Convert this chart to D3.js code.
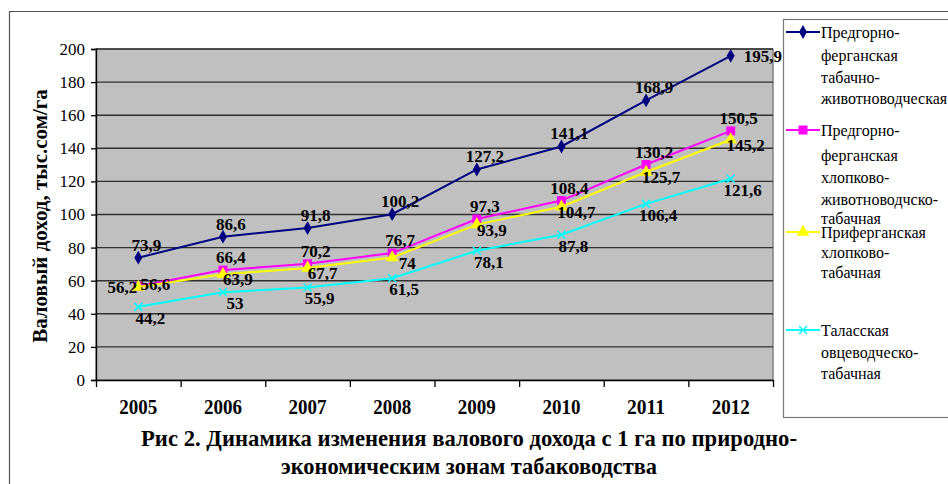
<!DOCTYPE html>
<html>
<head>
<meta charset="utf-8">
<script src="https://cdn.jsdelivr.net/npm/d3@7"></script>
</head>
<body style="margin:0">
<script>
var years = ['2005', '2006', '2007', '2008', '2009', '2010', '2011', '2012'];
var yTicks = [0, 20, 40, 60, 80, 100, 120, 140, 160, 180, 200];

var tabZhivValues = [73.9, 86.6, 91.8, 100.2, 127.2, 141.1, 168.9, 195.9];
var hlopZhivValues = [56.6, 66.4, 70.2, 76.7, 97.3, 108.4, 130.2, 150.5];
var priferValues = [56.2, 63.9, 67.7, 74, 93.9, 104.7, 125.7, 145.2];
var talasValues = [44.2, 53, 55.9, 61.5, 78.1, 87.8, 106.4, 121.6];

var seriesNames = [
  ['Предгорно-', 'ферганская', 'табачно-', 'животноводческая'],
  ['Предгорно-', 'ферганская', 'хлопково-', 'животноводчско-', 'табачная'],
  ['Приферганская', 'хлопково-', 'табачная'],
  ['Таласская', 'овцеводческо-', 'табачная']
];

var yTitle = 'Валовый доход, тыс.сом/га';
var captionLines = [
  'Рис 2. Динамика изменения валового дохода с 1 га по природно-',
  'экономическим зонам табаководства'
];

var WIDTH = 948;
var HEIGHT = 484;
var PLOT_LEFT = 96;
var PLOT_RIGHT = 773;
var PLOT_TOP = 49;
var PLOT_BOTTOM = 380;
var FONT = '"Times New Roman", monospace';

// style + label placement per series (kept apart from the values)
var seriesStyle = [
  {color: '#000080', symbol: 'diamond', dx: 8, dy: -7},
  {color: '#ff00ff', symbol: 'square', dx: 8, dy: -7},
  {color: '#ffff00', symbol: 'triangle', dx: 15, dy: 11},
  {color: '#00ffff', symbol: 'x', dx: 12, dy: 17}
];
var legendTop = [32, 130, 232, 330];
var legendLineGaps = [
  [0, 23, 45, 66],
  [0, 25, 47, 69, 88],
  [0, 20, 40],
  [0, 22, 43]
];

var translate = function (x, y) {
  return 'translate(' + x + ',' + y + ')';
};

var fmt = function (v) {
  return String(v).replace('.', ',');
};

var symbolPath = function (name) {
  if (name == 'diamond') return d3.symbol().type(d3.symbolDiamond).size(55)();
  if (name == 'square') return d3.symbol().type(d3.symbolSquare).size(80)();
  if (name == 'triangle') return d3.symbol().type(d3.symbolTriangle).size(70)();
  return 'M-4,-4L4,4M-4,4L4,-4';
};

var allValues = [tabZhivValues, hlopZhivValues, priferValues, talasValues];

var svg = d3.select('body').append('svg')
  .attr('width', WIDTH)
  .attr('height', HEIGHT);

// outer frame
svg.append('path')
  .attr('d', 'M9.5,' + HEIGHT + 'V11.5H' + WIDTH)
  .attr('fill', 'none')
  .attr('stroke', '#555')
  .attr('stroke-width', 1.2);

var x = d3.scaleBand().domain(years).range([PLOT_LEFT, PLOT_RIGHT]);
var xEdge = d3.scaleLinear().domain([0, years.length]).range([PLOT_LEFT, PLOT_RIGHT]);
var y = d3.scaleLinear().domain([0, 200]).range([PLOT_BOTTOM, PLOT_TOP]);

svg.append('rect')
  .attr('x', PLOT_LEFT)
  .attr('y', PLOT_TOP)
  .attr('width', PLOT_RIGHT - PLOT_LEFT)
  .attr('height', PLOT_BOTTOM - PLOT_TOP)
  .attr('fill', '#c0c0c0')
  .attr('stroke', '#808080')
  .attr('stroke-width', 1.5);

svg.append('g')
  .selectAll('line')
  .data(yTicks.slice(1))
  .enter().append('line')
  .attr('x1', PLOT_LEFT)
  .attr('x2', PLOT_RIGHT)
  .attr('y1', function (d) { return y(d); })
  .attr('y2', function (d) { return y(d); })
  .attr('stroke', '#303030')
  .attr('stroke-width', 1.4);

var yAxis = svg.append('g')
  .attr('transform', translate(PLOT_LEFT, 0))
  .call(d3.axisLeft(y).tickValues(yTicks).tickSize(5).tickPadding(6));
yAxis.attr('font-family', null).attr('font-size', 17);
yAxis.selectAll('text').attr('fill', '#000');
yAxis.selectAll('path, line').attr('stroke', '#000').attr('stroke-width', 1.3);

var xTicks = svg.append('g')
  .attr('transform', translate(0, PLOT_BOTTOM))
  .call(d3.axisBottom(xEdge).tickValues(d3.range(years.length + 1)).tickFormat('').tickSize(7).tickSizeOuter(0));
xTicks.selectAll('path, line').attr('stroke', '#000').attr('stroke-width', 1.3);

svg.append('g')
  .selectAll('text')
  .data(years)
  .enter().append('text')
  .attr('x', function (d) { return x(d) + x.bandwidth() / 2; })
  .attr('y', 414)
  .attr('text-anchor', 'middle')
  .attr('font-size', 22)
  .attr('font-weight', 'bold')
  .attr('textLength', 38)
  .attr('lengthAdjust', 'spacingAndGlyphs')
  .text(function (d) { return d; });

svg.append('text')
  .attr('transform', translate(47, 216) + ' rotate(-90)')
  .attr('text-anchor', 'middle')
  .attr('font-size', 21)
  .attr('font-weight', 'bold')
  .text(yTitle);

var line = d3.line()
  .x(function (d, i) { return x(years[i]) + x.bandwidth() / 2; })
  .y(function (d) { return y(d); });

allValues.forEach(function (values, s) {
  var st = seriesStyle[s];
  var g = svg.append('g');
  g.append('path')
    .attr('d', line(values))
    .attr('fill', 'none')
    .attr('stroke', st.color)
    .attr('stroke-width', 2);
  g.selectAll('.mark')
    .data(values)
    .enter().append('path')
    .attr('transform', function (d, i) { return translate(x(years[i]) + x.bandwidth() / 2, y(d)); })
    .attr('d', symbolPath(st.symbol))
    .attr('fill', st.color)
    .attr('stroke', st.color)
    .attr('stroke-width', st.symbol == 'x' ? 1.6 : 0);
});

// data labels drawn over all lines
allValues.forEach(function (values, s) {
  var st = seriesStyle[s];
  svg.append('g')
    .selectAll('text')
    .data(values)
    .enter().append('text')
    .attr('x', function (d, i) {
      var cx = x(years[i]) + x.bandwidth() / 2;
      if (s == 0 && i == values.length - 1) return cx + 13;
      if (s == 1 && i == 0) return cx + 17;
      if (s == 2 && i == 0) return cx - 16;
      return cx + st.dx;
    })
    .attr('y', function (d, i) {
      if (s == 0 && i == values.length - 1) return y(d) + 6;
      if (s == 1 && i == 0) return y(d) + 4;
      if (s == 2 && i == 0) return y(d) + 6;
      return y(d) + st.dy;
    })
    .attr('text-anchor', function (d, i) {
      return (s == 0 && i == values.length - 1) ? 'start' : 'middle';
    })
    .attr('font-size', 17)
    .attr('font-weight', 'bold')
    .text(fmt);
});

// legend
svg.append('rect')
  .attr('x', 783.5)
  .attr('y', 19.5)
  .attr('width', 200)
  .attr('height', 398)
  .attr('fill', '#fff')
  .attr('stroke', '#777')
  .attr('stroke-width', 1.2);

seriesNames.forEach(function (lines, s) {
  var st = seriesStyle[s];
  var ly = legendTop[s];
  svg.append('line')
    .attr('x1', 786).attr('x2', 820)
    .attr('y1', ly).attr('y2', ly)
    .attr('stroke', st.color)
    .attr('stroke-width', 2);
  svg.append('path')
    .attr('transform', translate(803, ly))
    .attr('d', symbolPath(st.symbol))
    .attr('fill', st.color)
    .attr('stroke', st.color)
    .attr('stroke-width', st.symbol == 'x' ? 1.4 : 0);
  svg.append('g')
    .selectAll('text')
    .data(lines)
    .enter().append('text')
    .attr('x', 821)
    .attr('y', function (d, i) { return ly + legendLineGaps[s][i] + 6; })
    .attr('font-size', 16)
    .text(function (d) { return d; });
});

// caption
svg.append('g')
  .selectAll('text')
  .data(captionLines)
  .enter().append('text')
  .attr('x', 469)
  .attr('y', function (d, i) { return 446 + i * 28; })
  .attr('text-anchor', 'middle')
  .attr('font-size', 24)
  .attr('font-weight', 'bold')
  .attr('textLength', function (d, i) { return i == 0 ? 656 : 376; })
  .attr('lengthAdjust', 'spacingAndGlyphs')
  .text(function (d) { return d; });

// serif face on every text node
svg.selectAll('text').style('font-family', FONT);
</script>
</body>
</html>
